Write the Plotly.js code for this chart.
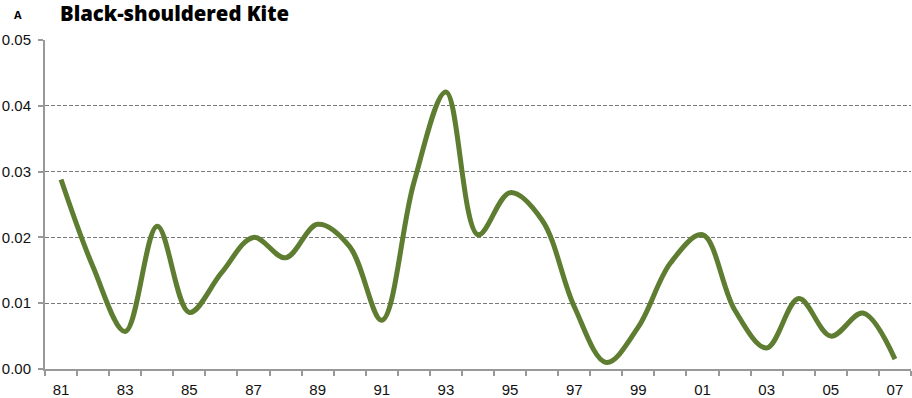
<!DOCTYPE html>
<html><head><meta charset="utf-8">
<script src="https://cdn.plot.ly/plotly-3.0.1.min.js"></script>
<style>body{margin:0;background:#fff}#c{width:912px;height:398px}</style>
</head><body><div id="c"></div>
<script>
const years = [1981,1982,1983,1984,1985,1986,1987,1988,1989,1990,1991,1992,1993,1994,1995,1996,1997,1998,1999,2000,2001,2002,2003,2004,2005,2006,2007];
const values = [0.0288,0.0155,0.0057,0.0217,0.0086,0.0146,0.0200,0.0169,0.0220,0.0186,0.0074,0.0283,0.0421,0.0204,0.0268,0.0226,0.0095,0.0010,0.0064,0.0161,0.0204,0.0090,0.0032,0.0107,0.0050,0.0085,0.0015];
const tickYears = [1981,1983,1985,1987,1989,1991,1993,1995,1997,1999,2001,2003,2005,2007];
const tickLabels = ['81','83','85','87','89','91','93','95','97','99','01','03','05','07'];
const yTicks = [0,0.01,0.02,0.03,0.04,0.05];
const panelLabel = 'A';
const titleText = 'Black-shouldered Kite';

const trace = {x: years, y: values, type:'scatter', mode:'lines',
  line:{shape:'spline', smoothing:1, color:'#5e7d31', width:5}, hoverinfo:'skip'};

const layout = {
  width:912, height:398,
  margin:{l:45, r:1, t:40, b:29},
  paper_bgcolor:'#fff', plot_bgcolor:'#fff',
  showlegend:false,
  font:{family:'"Liberation Sans", Arial, sans-serif', size:15, color:'#111'},
  xaxis:{range:[1980.5,2007.5], tickmode:'array', tickvals:tickYears, ticktext:tickLabels,
    ticks:'', showgrid:false, zeroline:false, showline:true, linecolor:'#999', linewidth:2,
    ticklabelstandoff:6,
    minor:{tickmode:'linear', tick0:1980.5, dtick:1, ticks:'outside', ticklen:5, tickwidth:2, tickcolor:'#999', showgrid:false},
    tickfont:{size:15, color:'#111'}, fixedrange:true},
  yaxis:{range:[0,0.05], tickmode:'array', tickvals:yTicks, tickformat:'.2f',
    ticks:'outside', ticklen:5, tickwidth:2, tickcolor:'#999',
    ticklabelstandoff:4,
    showgrid:true, gridcolor:'#7a7a7a', griddash:'4px,2px', gridwidth:1.3,
    zeroline:false, showline:true, linecolor:'#999', linewidth:2,
    tickfont:{size:15, color:'#111'}, fixedrange:true},
  annotations:[
    {text:'<b>'+panelLabel+'</b>', xref:'paper', yref:'paper', x:-0.038, y:1.0, yshift:26, xanchor:'left', yanchor:'middle', showarrow:false,
      font:{family:'"Open Sans", sans-serif', size:11, color:'#000'}},
    {text:titleText, xref:'paper', yref:'paper', x:0.0145, y:1.0, yshift:27, xanchor:'left', yanchor:'middle', showarrow:false,
      font:{family:'"Open Sans", sans-serif', size:20.3, weight:800, color:'#000'}}
  ]
};
Plotly.newPlot('c',[trace],layout,{displayModeBar:false, staticPlot:true});
</script></body></html>
